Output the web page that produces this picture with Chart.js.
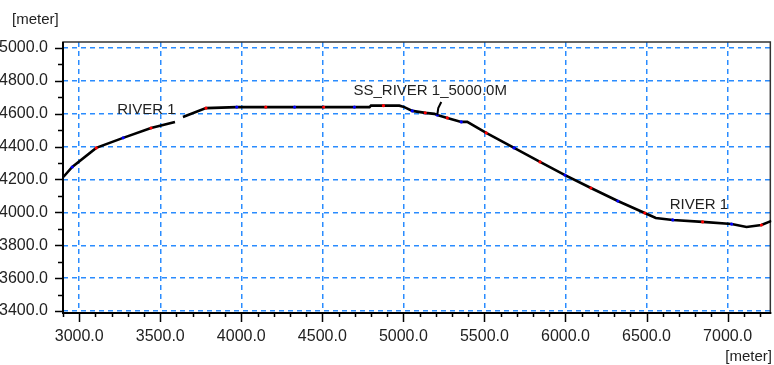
<!DOCTYPE html>
<html>
<head>
<meta charset="utf-8">
<script src="https://cdn.jsdelivr.net/npm/chart.js@4"></script>
<style>
  body { margin: 0; background: #fff; }
  #wrap { width: 774px; height: 365px; position: relative; }
</style>
</head>
<body>
<div id="wrap"><canvas id="profileChart"></canvas></div>
<script>
// river bed profile, chainage [meter] vs level [meter]
const stations = [2902, 2957, 3105, 3271, 3443, 3591, 3615, 3640, 3782, 3972, 4151, 4329, 4508, 4698, 4791, 4800, 4877, 4975, 5006, 5055, 5135, 5191, 5209, 5271, 5357, 5394, 5511, 5683, 5843, 5997, 6157, 6323, 6489, 6557, 6662, 6846, 7025, 7117, 7209, 7271];
const levels = [4215, 4276, 4392, 4453, 4513, 4550, null, 4580, 4634, 4640, 4640, 4640, 4640, 4640, 4640, 4649, 4649, 4649, 4640, 4617, 4605, 4599, 4592, 4574, 4550, 4550, 4483, 4392, 4307, 4227, 4148, 4069, 3996, 3966, 3954, 3942, 3929, 3911, 3923, 3948];
// coloured node markers along the line (r = red, b = blue)
const markers = ['', 'b', 'r', 'b', 'r', '', '', '', 'r', 'b', 'r', 'b', 'r', 'b', '', '', 'r', '', '', 'b', 'r', '', 'b', 'r', 'b', '', 'r', 'b', 'r', 'b', 'r', 'b', 'r', '', 'b', 'r', 'b', '', 'r', ''];

const xMin = 2900, xMax = 7270;
const yMin = 3388, yMax = 5036;

const gridBlue = '#2a8cff';
const textColor = '#222';
const family = '"Liberation Sans", Arial, sans-serif';
const noteFont = '15px ' + family;

const points = stations.map((s, i) => ({ x: s, y: levels[i] }));

// text labels placed in data coordinates
const notes = [
    { text: 'RIVER 1', x: 3234, y: 4623 },
    { text: 'SS_RIVER 1_5000.0M', x: 4692, y: 4738 },
    { text: 'RIVER 1', x: 6643, y: 4045 }
];
const leaderAt = { x: 5209, y: 4592 };

const overlay = {
    id: 'overlay',
    beforeDatasetsDraw(chart) {
        const { ctx, chartArea: a, scales } = chart;
        ctx.save();
        // frame
        ctx.strokeStyle = '#333';
        ctx.lineWidth = 1.5;
        ctx.strokeRect(a.left, a.top, a.right - a.left - 1, a.bottom - a.top);
        ctx.strokeStyle = '#000';
        ctx.lineWidth = 2;
        ctx.beginPath();
        ctx.moveTo(a.left, a.top);
        ctx.lineTo(a.left, a.bottom);
        ctx.lineTo(a.right, a.bottom);
        ctx.stroke();
        // tick marks
        ctx.lineWidth = 1.5;
        ctx.beginPath();
        scales.x.ticks.forEach(t => {
            const px = Math.round(scales.x.getPixelForValue(t.value)) + 0.5;
            const len = t.value % 500 === 0 ? 9 : 4;
            ctx.moveTo(px, a.bottom);
            ctx.lineTo(px, a.bottom + len);
        });
        scales.y.ticks.forEach(t => {
            const py = Math.round(scales.y.getPixelForValue(t.value)) + 0.5;
            const len = t.value % 200 === 0 ? 8 : 5;
            ctx.moveTo(a.left, py);
            ctx.lineTo(a.left - len, py);
        });
        ctx.stroke();
        ctx.restore();
    },
    afterDatasetsDraw(chart) {
        const { ctx, scales } = chart;
        ctx.save();
        ctx.font = noteFont;
        ctx.fillStyle = textColor;
        ctx.textBaseline = 'middle';
        ctx.textAlign = 'left';
        notes.forEach(n => {
            ctx.fillText(n.text, scales.x.getPixelForValue(n.x), scales.y.getPixelForValue(n.y));
        });
        // small leader from the cross section to its label
        const lx = scales.x.getPixelForValue(leaderAt.x);
        const ly = scales.y.getPixelForValue(leaderAt.y);
        ctx.strokeStyle = '#000';
        ctx.lineWidth = 2;
        ctx.beginPath();
        ctx.moveTo(lx, ly);
        ctx.lineTo(lx + 1, ly - 7);
        ctx.lineTo(lx + 4, ly - 13);
        ctx.stroke();
        // units
        ctx.fillText('[meter]', 12, 20);
        ctx.textAlign = 'right';
        ctx.fillText('[meter]', 772, 357);
        ctx.restore();
    }
};

new Chart(document.getElementById('profileChart'), {
    type: 'line',
    data: {
        datasets: [{
            label: 'RIVER 1',
            data: points,
            borderColor: '#000',
            borderWidth: 2.6,
            tension: 0,
            spanGaps: false,
            pointRadius: ctx => markers[ctx.dataIndex] ? 1.6 : 0,
            pointHoverRadius: 0,
            pointBorderWidth: 0,
            pointBackgroundColor: ctx => markers[ctx.dataIndex] === 'r' ? '#ff0000' : '#0000ff'
        }]
    },
    options: {
        responsive: true,
        maintainAspectRatio: false,
        animation: false,
        layout: { padding: { top: 42, right: 1, left: 0, bottom: 0 } },
        plugins: {
            legend: { display: false },
            tooltip: { enabled: false }
        },
        scales: {
            x: {
                type: 'linear',
                min: xMin,
                max: xMax,
                afterFit: s => { s.height = 52; },
                afterBuildTicks: s => { s.ticks = s.ticks.filter(t => Math.round(t.value) % 100 === 0); },
                border: { display: false, dash: [5, 4] },
                grid: {
                    drawTicks: false,
                    lineWidth: 1.5,
                    color: ctx => ctx.tick && Math.round(ctx.tick.value) % 500 === 0 ? gridBlue : 'transparent'
                },
                ticks: {
                    stepSize: 100,
                    includeBounds: false,
                    autoSkip: false,
                    maxRotation: 0,
                    padding: 14,
                    color: textColor,
                    font: { family: family, size: 16 },
                    callback: v => Math.round(v) % 500 === 0 ? v.toFixed(1) : ''
                }
            },
            y: {
                type: 'linear',
                min: yMin,
                max: yMax,
                afterFit: s => { s.width = 63; },
                afterBuildTicks: s => { s.ticks = s.ticks.filter(t => Math.round(t.value) % 100 === 0); },
                border: { display: false, dash: [5, 4] },
                grid: {
                    drawTicks: false,
                    lineWidth: 1.5,
                    color: ctx => ctx.tick && Math.round(ctx.tick.value) % 200 === 0 ? gridBlue : 'transparent'
                },
                ticks: {
                    stepSize: 100,
                    includeBounds: false,
                    autoSkip: false,
                    padding: 15,
                    color: textColor,
                    font: { family: family, size: 16 },
                    callback: v => Math.round(v) % 200 === 0 ? v.toFixed(1) : ''
                }
            }
        }
    },
    plugins: [overlay]
});
</script>
</body>
</html>
